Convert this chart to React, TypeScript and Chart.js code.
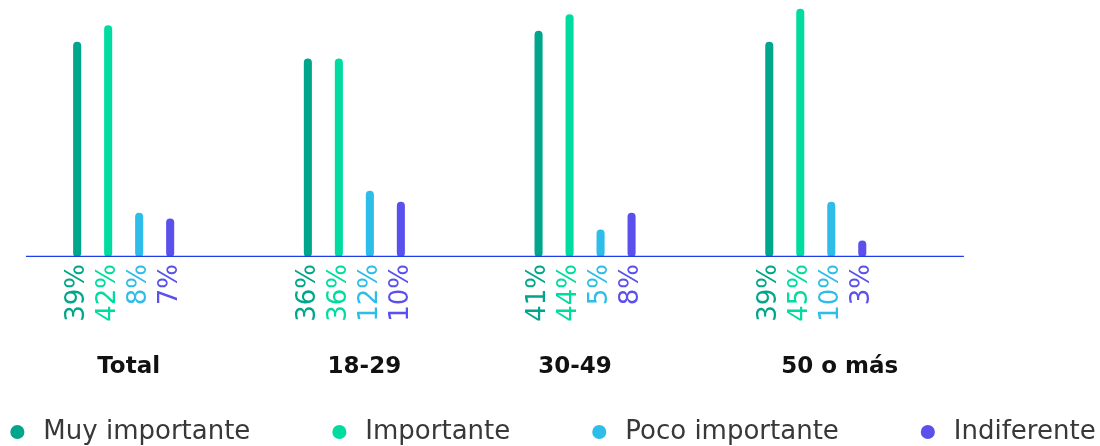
import React, { useEffect, useRef } from 'react';
import { Chart, registerables } from 'chart.js';

Chart.register(...registerables);

// ---- data ----
const groups = ['Total', '18-29', '30-49', '50 o más'];
const seriesNames = ['Muy importante', 'Importante', 'Poco importante', 'Indiferente'];
const muyImportante = [39, 36, 41, 39];
const importante = [42, 36, 44, 45];
const pocoImportante = [8, 12, 5, 10];
const indiferente = [7, 10, 8, 3];
const seriesValues = [muyImportante, importante, pocoImportante, indiferente];
const seriesColors = ['#00a68b', '#00dc9f', '#2ebde9', '#5a50ec'];

// ---- layout / style constants ----
const X_MIN = -0.536;
const X_MAX = 4.232;
const BASE_START = -0.4235;
const BASE_END = 3.642;
const BASE_COLOR = '#1f3fe8';
const GROUP_LABEL_NUDGE_PX = [5, 10, -10, 24];

const FONT = '"DejaVu Sans", "Noto Sans", sans-serif';

const valueLabels = {
  id: 'valueLabels',
  afterDatasetsDraw(chart: any) {
    const { ctx } = chart;
    const yZero = chart.scales.y.getPixelForValue(0);
    seriesValues.forEach((vals, di) => {
      const meta = chart.getDatasetMeta(di);
      meta.data.forEach((el: any, i: number) => {
        ctx.save();
        ctx.translate(el.x, yZero + 7);
        ctx.rotate(-Math.PI / 2);
        ctx.font = `26px ${FONT}`;
        ctx.fillStyle = seriesColors[di];
        ctx.textAlign = 'right';
        ctx.textBaseline = 'middle';
        ctx.fillText(`${vals[i]}%`, 0, 0);
        ctx.restore();
      });
    });
  },
};

const groupLabels = {
  id: 'groupLabels',
  afterDraw(chart: any) {
    const { ctx } = chart;
    const xs = chart.scales.x;
    const yZero = chart.scales.y.getPixelForValue(0);
    ctx.save();
    ctx.font = `bold 23px ${FONT}`;
    ctx.fillStyle = '#111111';
    ctx.textAlign = 'center';
    ctx.textBaseline = 'middle';
    groups.forEach((g, i) => {
      ctx.fillText(g, xs.getPixelForValue(i) + GROUP_LABEL_NUDGE_PX[i], yZero + 110);
    });
    ctx.restore();
  },
};

export default function App() {
  const ref = useRef<HTMLCanvasElement | null>(null);

  useEffect(() => {
    if (!ref.current) return;
    const barSets = seriesNames.map((name, di) => ({
      type: 'bar' as const,
      label: name,
      data: seriesValues[di].map((v, i) => ({ x: i, y: v })),
      backgroundColor: seriesColors[di],
      borderRadius: 4,
      borderSkipped: false,
      categoryPercentage: 0.5375,
      barPercentage: 0.26,
      order: 1,
    }));
    const baseline = {
      type: 'line' as const,
      label: 'base',
      data: [
        { x: BASE_START, y: 0 },
        { x: BASE_END, y: 0 },
      ],
      borderColor: BASE_COLOR,
      borderWidth: 2.6,
      pointRadius: 0,
      fill: false,
      order: 0,
    };

    const chart = new Chart(ref.current, {
      type: 'bar',
      data: { datasets: [...barSets, baseline] as any },
      options: {
        animation: false,
        responsive: false,
        layout: { autoPadding: false, padding: { left: -80, right: -80, top: 6, bottom: -9 } },
        plugins: {
          tooltip: { enabled: false },
          legend: {
            position: 'bottom',
            labels: {
              filter: (item: any) => item.datasetIndex < seriesNames.length,
              usePointStyle: true,
              pointStyle: 'circle',
              boxWidth: 26,
              boxHeight: 10,
              padding: 76,
              color: '#383838',
              font: { family: FONT, size: 26 },
            },
          },
        },
        scales: {
          x: {
            type: 'linear',
            offset: false,
            min: X_MIN,
            max: X_MAX,
            grid: { display: false, drawTicks: false, offset: false },
            border: { display: false },
            ticks: { display: false },
            afterBuildTicks: (axis: any) => {
              axis.ticks = groups.map((_, i) => ({ value: i }));
            },
            afterFit: (axis: any) => {
              axis.height = 86;
            },
          },
          y: {
            display: false,
            min: 0,
            max: 45.5,
          },
        },
      } as any,
      plugins: [valueLabels, groupLabels],
    });
    return () => chart.destroy();
  }, []);

  return (
    <div style={{ position: 'absolute', left: 0, top: 0, width: 1100, height: 446, background: '#fff' }}>
      <canvas ref={ref} width={1100} height={446} style={{ display: 'block' }} />
    </div>
  );
}
